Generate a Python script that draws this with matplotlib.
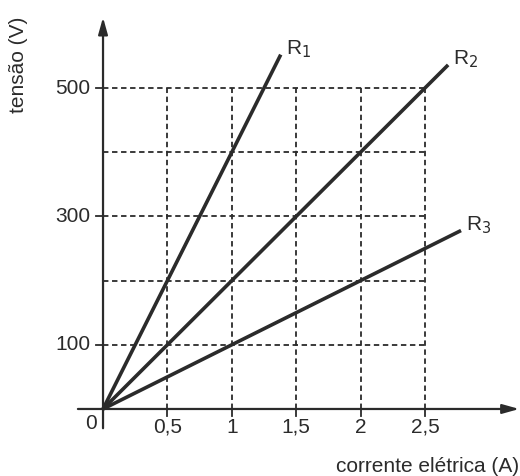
import numpy as np
import matplotlib
matplotlib.use("Agg")
from matplotlib import pyplot as plt

plt.rcParams['font.family'] = ['Liberation Sans', 'DejaVu Sans']

# dados do gráfico: tensão x corrente para três resistores
resistores = ["1", "2", "3"]
resistencias = [400, 200, 100]          # ohm (inclinação das retas)
corrente_final = [1.38, 2.68, 2.78]     # onde cada reta termina (A)

x_ticks = [0.5, 1, 1.5, 2, 2.5]
x_labels = ["0,5", "1", "1,5", "2", "2,5"]
y_grid = [100, 200, 300, 400, 500]
y_labels = {100: "100", 300: "300", 500: "500"}

fig = plt.figure(figsize=(5.2, 4.76), dpi=100, facecolor='white')
ax = fig.add_axes([0, 0, 1, 1])
ax.set_xlim(-0.80, 3.238)
ax.set_ylim(-104.4, 637.1)
ax.axis('off')

cor = '#2b2b2b'
fs = 15

# grade tracejada
for xv in x_ticks:
    ax.plot([xv, xv], [0, 500], ls=(0, (3, 2)), color=cor, lw=1.3)
    ax.plot([xv, xv], [-11, 0], color=cor, lw=1.3)
for yv in y_grid:
    ax.plot([0, 2.5], [yv, yv], ls=(0, (3, 2)), color=cor, lw=1.3)
for yv in y_labels:
    ax.plot([-0.055, 0], [yv, yv], color=cor, lw=1.3)

# eixos com setas
ax.annotate('', xy=(3.232, 0), xytext=(-0.195, 0),
            arrowprops=dict(arrowstyle='-|>,head_length=1.0,head_width=0.28',
                            color=cor, lw=1.6, shrinkA=0, shrinkB=0))
ax.annotate('', xy=(0, 610), xytext=(0, -30),
            arrowprops=dict(arrowstyle='-|>,head_length=1.0,head_width=0.28',
                            color=cor, lw=1.6, shrinkA=0, shrinkB=0))

# retas dos resistores
for nome, r, i_max in zip(resistores, resistencias, corrente_final):
    i = np.array([0, i_max])
    ax.plot(i, r * i, color=cor, lw=2.6, solid_capstyle='butt')
    ax.text(i_max + 0.04, r * i_max - 8, f"R$_{nome}$", fontsize=fs,
            color=cor, ha='left', va='bottom')

# rótulos dos ticks
for xv, lab in zip(x_ticks, x_labels):
    ax.text(xv, -14, lab, fontsize=fs, color=cor, ha='center', va='top')
for yv, lab in y_labels.items():
    ax.text(-0.10, yv, lab, fontsize=fs, color=cor, ha='right', va='center')
ax.text(-0.045, -8, "0", fontsize=fs, color=cor, ha='right', va='top')

ax.text(3.235, -89, "corrente elétrica (A)", fontsize=fs, color=cor,
        ha='right', va='center')
ax.text(-0.66, 536, "tensão (V)", fontsize=fs, color=cor, rotation=90,
        ha='center', va='center')

fig.savefig("out.png", dpi=100, facecolor='white')
plt.close(fig)
